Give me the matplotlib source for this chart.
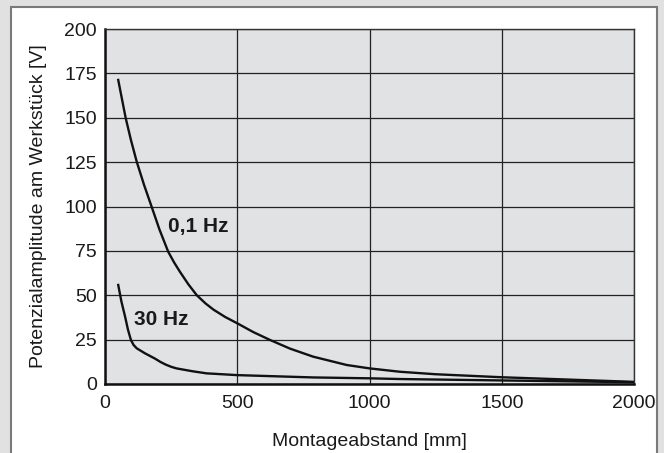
import matplotlib.pyplot as plt
from matplotlib.patches import Rectangle

plt.rcParams['font.family'] = ['Liberation Sans', 'DejaVu Sans']

# Kurve 0,1 Hz
dist_01 = [50, 78, 98, 120, 148, 176, 206, 239, 262, 283, 315, 347, 380, 410, 455, 500,
           560, 624, 700, 787, 914, 1000, 1115, 1250, 1500, 1750, 2000]
amp_01 = [171.3, 150, 137.5, 125.2, 112, 100, 87, 74.5, 68.3, 63.3, 56.2, 50, 45.4, 41.9, 37.7, 34.2,
          29.3, 24.8, 19.9, 15.4, 10.7, 8.8, 6.9, 5.5, 3.8, 2.5, 1.2]

# Kurve 30 Hz
dist_30 = [50, 62, 76, 87, 98, 108, 120, 151, 189, 210, 230, 250, 270, 330, 384, 500,
           787, 1000, 1115, 1500, 2000]
amp_30 = [55.8, 46.5, 37.9, 30.5, 24.8, 22, 20.1, 17.3, 14.3, 12.4, 10.9, 9.7, 8.8, 7.2, 6, 5,
          3.7, 3.2, 2.8, 2, 1]

x_ticks = [0, 500, 1000, 1500, 2000]
y_ticks = [0, 25, 50, 75, 100, 125, 150, 175, 200]

fig = plt.figure(figsize=(6.64, 4.53), dpi=100)
fig.patch.set_facecolor('#e1e1e1')

# weisses Feld mit grauem Rand
panel = Rectangle((10.5 / 664, -0.05), (657 - 10.5) / 664, 1.05 - 7 / 453,
                  transform=fig.transFigure, facecolor='white',
                  edgecolor='#7a7a7a', linewidth=1.5, zorder=-1)
fig.patches.append(panel)

ax = fig.add_axes([105 / 664, 69 / 453, 529 / 664, 355 / 453])
ax.set_zorder(1)
ax.set_facecolor('#e1e2e4')

ax.plot(dist_01, amp_01, color='#111111', linewidth=1.7, zorder=3,
        solid_joinstyle='round')
ax.plot(dist_30, amp_30, color='#111111', linewidth=1.7, zorder=3,
        solid_joinstyle='round')

ax.set_xlim(0, 2000)
ax.set_ylim(0, 200)
ax.set_xticks(x_ticks)
ax.set_yticks(y_ticks)
ax.grid(True, color='#222222', linewidth=0.9, zorder=1)
ax.set_axisbelow(True)
ax.tick_params(length=0, labelsize=14, colors='#1a1a1a')
ax.tick_params(axis='x', pad=8)
ax.tick_params(axis='y', pad=6)

for side in ['left', 'bottom']:
    ax.spines[side].set_linewidth(1.8)
    ax.spines[side].set_color('#111111')
for side in ['top', 'right']:
    ax.spines[side].set_linewidth(1.0)
    ax.spines[side].set_color('#333333')

ax.text(239, 88.5, '0,1 Hz', fontsize=15, fontweight='bold', va='center', ha='left', color='#1a1a1a')
ax.text(110, 36.6, '30 Hz', fontsize=15, fontweight='bold', va='center', ha='left', color='#1a1a1a')

ax.set_xlabel('Montageabstand [mm]', fontsize=14, labelpad=15, color='#1a1a1a')
ax.set_ylabel('Potenzialamplitude am Werkstück [V]', fontsize=14, labelpad=12, color='#1a1a1a')

fig.savefig('out.png', dpi=100, facecolor=fig.get_facecolor())
